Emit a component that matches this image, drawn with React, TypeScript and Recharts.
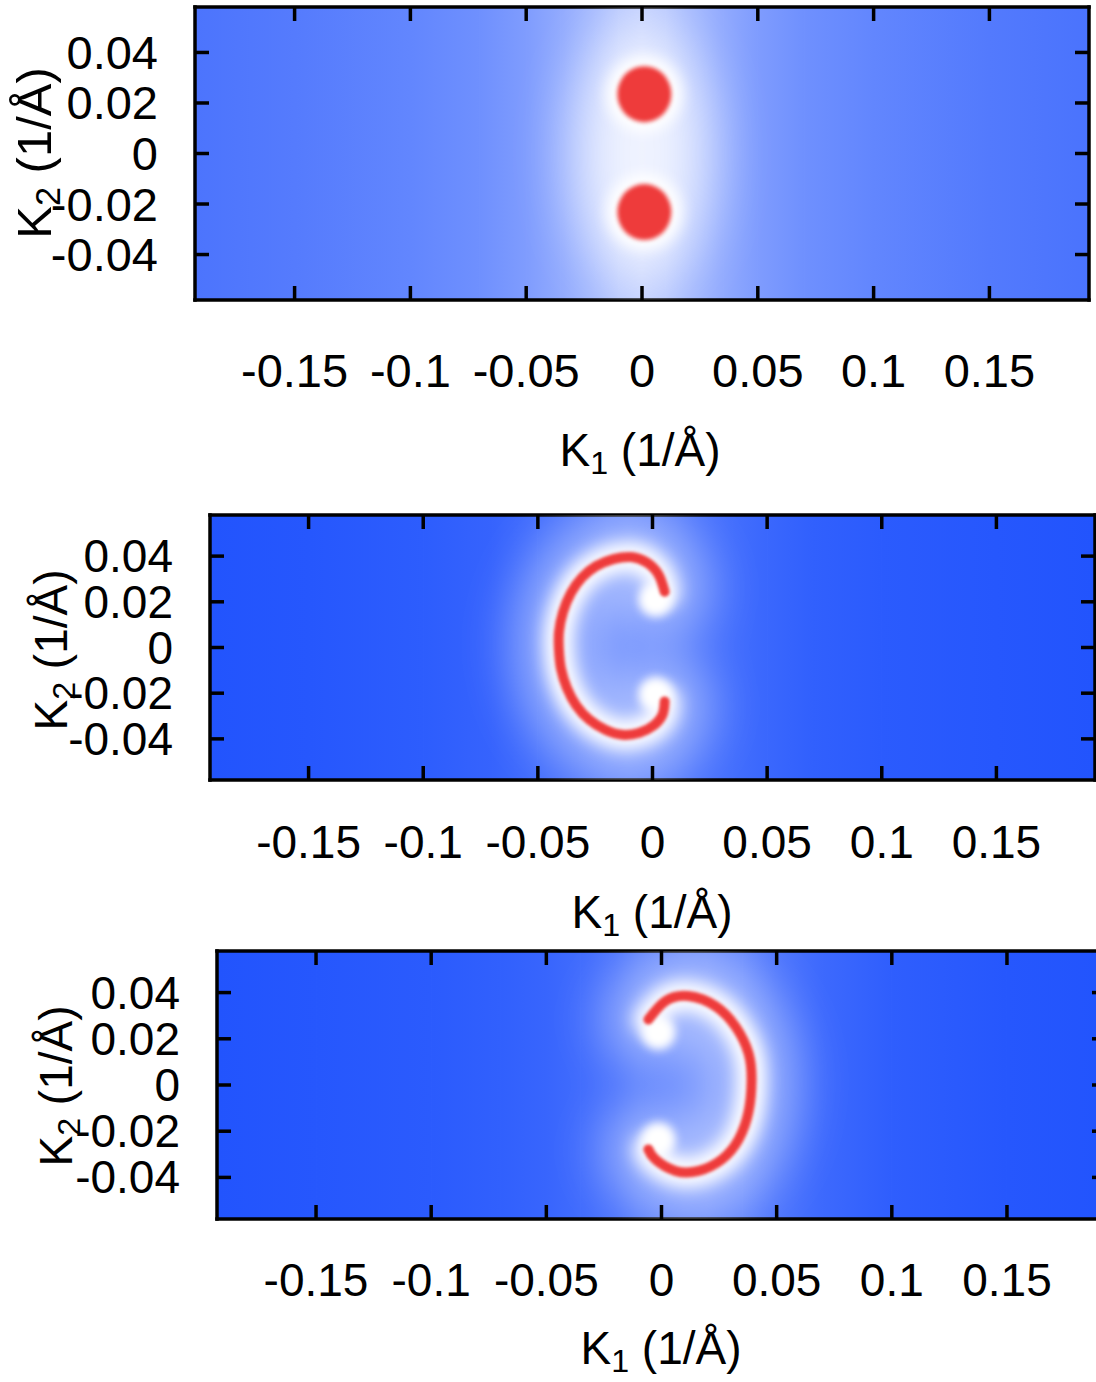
import React from "react";
import { ReferenceArea, Scatter, ScatterChart, XAxis, YAxis } from "recharts";

const xTicks = [-0.15, -0.1, -0.05, 0, 0.05, 0.1, 0.15];
const yTicks = [-0.04, -0.02, 0, 0.02, 0.04];
const xRange: [number, number] = [-0.193, 0.193];
const yRange: [number, number] = [-0.058, 0.058];

// background whiteness per column edge (0 = deep blue, 1 = white)
const bgEdges = [-0.193, -0.15, -0.1, -0.07, -0.05, -0.035, -0.02, -0.01, 0, 0.01, 0.02, 0.035, 0.05, 0.07, 0.1, 0.15, 0.193];
const bgTop = [0.19, 0.23, 0.29, 0.35, 0.42, 0.5, 0.6, 0.68, 0.72, 0.68, 0.6, 0.5, 0.42, 0.35, 0.29, 0.22, 0.18];
const bgMid = [0.0, 0.02, 0.05, 0.09, 0.15, 0.2, 0.26, 0.28, 0.27, 0.24, 0.2, 0.15, 0.11, 0.07, 0.04, 0.02, 0.0];
const bgLow = [0.0, 0.02, 0.04, 0.07, 0.1, 0.14, 0.19, 0.24, 0.27, 0.3, 0.31, 0.28, 0.2, 0.12, 0.06, 0.02, 0.0];

// top panel: two spots
const spotsTop = [
  { k1: 0.001, k2: 0.0235 },
  { k1: 0.001, k2: -0.0232 }
];
const glowTop = [{ k1: 0, k2: 0 }];

// middle panel: "C" shaped arc
const arcMid = [
  { k1: 0.0053, k2: 0.0244 },
  { k1: 0.0026, k2: 0.032 },
  { k1: -0.0026, k2: 0.0373 },
  { k1: -0.0092, k2: 0.0396 },
  { k1: -0.0171, k2: 0.0387 },
  { k1: -0.0246, k2: 0.0356 },
  { k1: -0.0307, k2: 0.0307 },
  { k1: -0.0355, k2: 0.024 },
  { k1: -0.039, k2: 0.0156 },
  { k1: -0.0408, k2: 0.0067 },
  { k1: -0.0408, k2: -0.0013 },
  { k1: -0.0399, k2: -0.0093 },
  { k1: -0.0373, k2: -0.0178 },
  { k1: -0.0333, k2: -0.0253 },
  { k1: -0.0276, k2: -0.0316 },
  { k1: -0.0206, k2: -0.036 },
  { k1: -0.0132, k2: -0.0382 },
  { k1: -0.0057, k2: -0.0373 },
  { k1: 0.0004, k2: -0.0342 },
  { k1: 0.0044, k2: -0.0293 },
  { k1: 0.0053, k2: -0.0236 }
];
const endsMid = [
  { k1: 0.0013, k2: 0.0209 },
  { k1: 0.0013, k2: -0.0204 }
];

// bottom panel: mirrored arc
const arcLow = [
  { k1: -0.0057, k2: 0.0283 },
  { k1: 0.0017, k2: 0.0363 },
  { k1: 0.0117, k2: 0.0385 },
  { k1: 0.0235, k2: 0.0341 },
  { k1: 0.0322, k2: 0.0252 },
  { k1: 0.0378, k2: 0.0137 },
  { k1: 0.0391, k2: 0.0018 },
  { k1: 0.0378, k2: -0.0115 },
  { k1: 0.0335, k2: -0.0235 },
  { k1: 0.0261, k2: -0.0323 },
  { k1: 0.0161, k2: -0.0372 },
  { k1: 0.0061, k2: -0.0372 },
  { k1: -0.0026, k2: -0.0323 },
  { k1: -0.0057, k2: -0.0279 }
];
const endsLow = [
  { k1: -0.0013, k2: 0.0226 },
  { k1: -0.0013, k2: -0.0235 }
];

const BLUE = [34, 84, 253];
const RED = "#ee3b3b";
const FONT = "'Liberation Sans', Arial, sans-serif";

function shade(w: number) {
  const c = BLUE.map((v) => Math.round(v + (255 - v) * w));
  return `rgb(${c.join(",")})`;
}

function Gradients({ id, values }: { id: string; values: number[] }) {
  return (
    <>
      {values.slice(0, -1).map((w, i) => (
        <linearGradient id={`${id}${i}`} key={i} x1="0" x2="1" y1="0" y2="0">
          <stop offset="0" stopColor={shade(w)} />
          <stop offset="1" stopColor={shade(values[i + 1])} />
        </linearGradient>
      ))}
    </>
  );
}

const noMark = () => <g />;
const frame = { stroke: "#000", strokeWidth: 3.5, strokeLinecap: "square" as const };

function BottomTick({ x, y, payload, gap, fs }: any) {
  return (
    <g>
      <line x1={x} x2={x} y1={y} y2={y - 14} stroke="#000" strokeWidth={3.5} />
      <text x={x} y={y + gap} textAnchor="middle" dominantBaseline="central" fontSize={fs} fontFamily={FONT} fill="#000">
        {String(payload.value)}
      </text>
    </g>
  );
}

function TopTick({ x, y }: any) {
  return <line x1={x} x2={x} y1={y} y2={y + 14} stroke="#000" strokeWidth={3.5} />;
}

function LeftTick({ x, y, payload, gap, fs }: any) {
  return (
    <g>
      <line x1={x} x2={x + 14} y1={y} y2={y} stroke="#000" strokeWidth={3.5} />
      <text x={x - gap} y={y} textAnchor="end" dominantBaseline="central" fontSize={fs} fontFamily={FONT} fill="#000">
        {String(payload.value)}
      </text>
    </g>
  );
}

function RightTick({ x, y }: any) {
  return <line x1={x} x2={x - 14} y1={y} y2={y} stroke="#000" strokeWidth={3.5} />;
}

type Plot = { left: number; right: number; top: number; bottom: number };

function Panel({
  id,
  top,
  width,
  height,
  plot,
  xGap,
  yGap,
  fs,
  children
}: {
  id: string;
  top: number;
  width: number;
  height: number;
  plot: Plot;
  xGap: number;
  yGap: number;
  fs: number;
  children: React.ReactNode;
}) {
  // every axis reserves 1px, so margins are one pixel short of the plot box
  const margin = { left: plot.left - 1, right: width - plot.right - 1, top: plot.top - 1, bottom: height - plot.bottom - 1 };
  return (
    <div style={{ position: "absolute", left: 0, top, width: 1096, height, overflow: "hidden" }}>
      <ScatterChart width={width} height={height} margin={margin}>
        {bgEdges.slice(0, -1).map((x, i) => (
          <ReferenceArea
            key={i}
            xAxisId="b"
            yAxisId="l"
            x1={x}
            x2={bgEdges[i + 1]}
            y1={yRange[0]}
            y2={yRange[1]}
            fill={`url(#${id}${i})`}
            fillOpacity={1}
            stroke={`url(#${id}${i})`}
            strokeWidth={1.2}
          />
        ))}
        {children}
        <XAxis xAxisId="b" type="number" dataKey="k1" domain={xRange} ticks={xTicks} allowDataOverflow interval={0}
          height={1} tickSize={0} tickMargin={0} axisLine={frame} tickLine={false}
          tick={(p: any) => <BottomTick {...p} gap={xGap} fs={fs} />} />
        <XAxis xAxisId="t" orientation="top" type="number" dataKey="k1" domain={xRange} ticks={xTicks} allowDataOverflow interval={0}
          height={1} tickSize={0} tickMargin={0} axisLine={frame} tickLine={false} tick={(p: any) => <TopTick {...p} />} />
        <YAxis yAxisId="l" type="number" dataKey="k2" domain={yRange} ticks={yTicks} allowDataOverflow interval={0}
          width={1} tickSize={0} tickMargin={0} axisLine={frame} tickLine={false}
          tick={(p: any) => <LeftTick {...p} gap={yGap} fs={fs} />} />
        <YAxis yAxisId="r" orientation="right" type="number" dataKey="k2" domain={yRange} ticks={yTicks} allowDataOverflow interval={0}
          width={1} tickSize={0} tickMargin={0} axisLine={frame} tickLine={false} tick={(p: any) => <RightTick {...p} />} />
      </ScatterChart>
    </div>
  );
}

function Arc({ data, ends }: { data: { k1: number; k2: number }[]; ends: { k1: number; k2: number }[] }) {
  return [
    <Scatter key="wide" xAxisId="b" yAxisId="l" data={data} isAnimationActive={false} shape={noMark} className="blur-wide"
      lineJointType="natural" line={{ stroke: "#fff", strokeWidth: 90, strokeOpacity: 0.45, strokeLinecap: "round", strokeLinejoin: "round", fill: "none" }} />,
    <Scatter key="halo" xAxisId="b" yAxisId="l" data={data} isAnimationActive={false} shape={noMark} className="blur-halo"
      lineJointType="natural" line={{ stroke: "#fff", strokeWidth: 30, strokeLinecap: "round", strokeLinejoin: "round", fill: "none" }} />,
    <Scatter key="ends" xAxisId="b" yAxisId="l" data={ends} isAnimationActive={false}
      shape={(p: any) => <circle cx={p.cx} cy={p.cy} r={17} fill="#fff" style={{ filter: "blur(5px)" }} />} />,
    <Scatter key="core" xAxisId="b" yAxisId="l" data={data} isAnimationActive={false} shape={noMark} className="blur-core"
      lineJointType="natural" line={{ stroke: RED, strokeWidth: 10, strokeLinecap: "round", strokeLinejoin: "round", fill: "none" }} />
  ];
}

function KTitle({ n, x, y, fs, rotate }: { n: number; x: number; y: number; fs: number; rotate?: boolean }) {
  return (
    <div
      style={{
        position: "absolute",
        left: x,
        top: y,
        transform: `translate(-50%, -50%)${rotate ? " rotate(-90deg)" : ""}`,
        fontFamily: FONT,
        fontSize: fs,
        lineHeight: 1,
        whiteSpace: "nowrap",
        color: "#000"
      }}
    >
      K<span style={{ fontSize: "0.7em", position: "relative", top: "0.25em" }}>{n}</span> (1/Å)
    </div>
  );
}

export default function App() {
  return (
    <div style={{ position: "relative", width: 1096, height: 1382, background: "#fff", overflow: "hidden" }}>
      <style>{`body{margin:0}.blur-wide{filter:blur(18px)}.blur-halo{filter:blur(6px)}.blur-core{filter:blur(1px)}`}</style>
      <svg width={0} height={0} style={{ position: "absolute" }}>
        <defs>
          <Gradients id="gt" values={bgTop} />
          <Gradients id="gm" values={bgMid} />
          <Gradients id="gl" values={bgLow} />
        </defs>
      </svg>

      <Panel id="gt" top={0} width={1096} height={480} plot={{ left: 195, right: 1089, top: 7, bottom: 300 }} xGap={70} yGap={37} fs={47}>
        <Scatter xAxisId="b" yAxisId="l" data={glowTop} isAnimationActive={false}
          shape={(p: any) => <ellipse cx={p.cx} cy={p.cy} rx={68} ry={128} fill="#fff" opacity={0.75} style={{ filter: "blur(28px)" }} />} />
        <Scatter xAxisId="b" yAxisId="l" data={spotsTop} isAnimationActive={false}
          shape={(p: any) => <circle cx={p.cx} cy={p.cy} r={38} fill="#fff" style={{ filter: "blur(7px)" }} />} />
        <Scatter xAxisId="b" yAxisId="l" data={spotsTop} isAnimationActive={false}
          shape={(p: any) => <ellipse cx={p.cx} cy={p.cy} rx={27} ry={28} fill={RED} style={{ filter: "blur(2px)" }} />} />
      </Panel>

      <Panel id="gm" top={480} width={1096} height={460} plot={{ left: 210, right: 1095, top: 35, bottom: 300 }} xGap={62} yGap={37} fs={46}>
        {Arc({ data: arcMid, ends: endsMid })}
      </Panel>

      <Panel id="gl" top={940} width={1110} height={442} plot={{ left: 217, right: 1106, top: 11, bottom: 279 }} xGap={61} yGap={37} fs={46}>
        {Arc({ data: arcLow, ends: endsLow })}
      </Panel>

      <KTitle n={1} x={640} y={450} fs={46} />
      <KTitle n={2} x={34} y={153} fs={49} rotate />
      <KTitle n={1} x={652} y={912} fs={46} />
      <KTitle n={2} x={51} y={650} fs={46} rotate />
      <KTitle n={1} x={661} y={1348} fs={46} />
      <KTitle n={2} x={56} y={1086} fs={46} rotate />
    </div>
  );
}
